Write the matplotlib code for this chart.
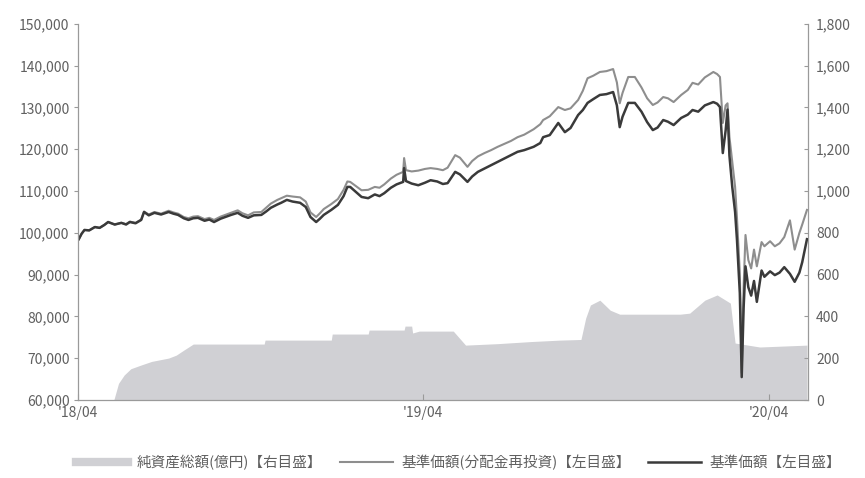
"""基準価額・純資産総額の推移"""

import pandas as pd
import matplotlib
matplotlib.use("Agg")
import matplotlib.pyplot as plt
from matplotlib.lines import Line2D
from matplotlib.ticker import FuncFormatter

plt.rcParams["font.family"] = ["Noto Sans CJK JP", "DejaVu Sans"]

# 基準価額の日付
dates = [
    "2018-04-02", "2018-04-05", "2018-04-08", "2018-04-13", "2018-04-19", "2018-04-24",
    "2018-04-29", "2018-05-03", "2018-05-10", "2018-05-17", "2018-05-22", "2018-05-26",
    "2018-06-01", "2018-06-07", "2018-06-10", "2018-06-15", "2018-06-21", "2018-06-28",
    "2018-07-06", "2018-07-11", "2018-07-16", "2018-07-22", "2018-07-27", "2018-08-01",
    "2018-08-06", "2018-08-13", "2018-08-18", "2018-08-23", "2018-08-30", "2018-09-05",
    "2018-09-10", "2018-09-17", "2018-09-22", "2018-09-28", "2018-10-04", "2018-10-12",
    "2018-10-17", "2018-10-22", "2018-10-29", "2018-11-02", "2018-11-08", "2018-11-14",
    "2018-11-22", "2018-11-28", "2018-12-03", "2018-12-09", "2018-12-13", "2018-12-17",
    "2018-12-25", "2019-01-01", "2019-01-07", "2019-01-11", "2019-01-14", "2019-01-20",
    "2019-01-26", "2019-02-02", "2019-02-09", "2019-02-14", "2019-02-19", "2019-02-26",
    "2019-03-04", "2019-03-11", "2019-03-12", "2019-03-14", "2019-03-20", "2019-03-27",
    "2019-04-03", "2019-04-09", "2019-04-16", "2019-04-22", "2019-04-27", "2019-05-05",
    "2019-05-10", "2019-05-18", "2019-05-23", "2019-05-29", "2019-06-05", "2019-06-12",
    "2019-06-19", "2019-06-26", "2019-07-03", "2019-07-10", "2019-07-17", "2019-07-27",
    "2019-08-03", "2019-08-06", "2019-08-13", "2019-08-22", "2019-08-29", "2019-09-04",
    "2019-09-12", "2019-09-17", "2019-09-22", "2019-09-28", "2019-10-05", "2019-10-12",
    "2019-10-19", "2019-10-23", "2019-10-26", "2019-10-29", "2019-11-04", "2019-11-11",
    "2019-11-18", "2019-11-24", "2019-11-30", "2019-12-05", "2019-12-11", "2019-12-16",
    "2019-12-22", "2019-12-30", "2020-01-06", "2020-01-11", "2020-01-17", "2020-01-24",
    "2020-02-02", "2020-02-06", "2020-02-09", "2020-02-12", "2020-02-15", "2020-02-17",
    "2020-02-19", "2020-02-22", "2020-02-25", "2020-02-27", "2020-03-01", "2020-03-03",
    "2020-03-05", "2020-03-07", "2020-03-10", "2020-03-13", "2020-03-16", "2020-03-19",
    "2020-03-22", "2020-03-24", "2020-03-27", "2020-04-02", "2020-04-07", "2020-04-12",
    "2020-04-17", "2020-04-23", "2020-04-28", "2020-05-03", "2020-05-06", "2020-05-11",
]

# 基準価額【左目盛】
kijun = [
    98500, 99800, 100700, 100600, 101400, 101200,
    101900, 102600, 102000, 102400, 102000, 102600,
    102300, 103100, 105000, 104200, 104800, 104400,
    105000, 104600, 104300, 103500, 103100, 103500,
    103600, 102900, 103200, 102600, 103400, 103900,
    104300, 104800, 104100, 103600, 104200, 104300,
    105100, 106000, 106800, 107200, 107900, 107500,
    107200, 106200, 103800, 102600, 103400, 104300,
    105500, 106700, 108800, 111000, 111000, 109800,
    108600, 108300, 109200, 108800, 109500, 110800,
    111600, 112200, 115500, 112400, 111800, 111400,
    112000, 112600, 112300, 111700, 111900, 114600,
    114000, 112200, 113500, 114600, 115400, 116200,
    117000, 117800, 118600, 119400, 119800, 120600,
    121500, 122900, 123400, 126300, 124100, 125100,
    128200, 129400, 131100, 132000, 133000, 133200,
    133700, 130500, 125300, 127800, 131100, 131100,
    129000, 126500, 124600, 125200, 127000, 126600,
    125800, 127500, 128300, 129400, 129000, 130500,
    131300, 130900, 130100, 119100, 124500, 129500,
    118500, 111000, 105000, 98300, 85600, 65500,
    82000, 92000, 87000, 85000, 88500, 83500,
    88000, 91000, 89500, 90800, 89900, 90500,
    91800, 90200, 88300, 90500, 93000, 98500,
]

# 基準価額(分配金再投資)【左目盛】
kijun_reinv = [
    98500, 99800, 100700, 100600, 101400, 101200,
    101900, 102600, 102000, 102400, 102100, 102700,
    102400, 103200, 105100, 104400, 105000, 104600,
    105300, 104900, 104600, 103800, 103500, 103900,
    104000, 103300, 103600, 103100, 103900, 104400,
    104800, 105400, 104700, 104200, 104900, 105000,
    106000, 107000, 107900, 108300, 108900, 108700,
    108500, 107500, 104900, 103800, 104700, 105700,
    106900, 108100, 110300, 112300, 112200, 111200,
    110200, 110300, 111000, 110800, 111600, 113000,
    113900, 114600, 117900, 115000, 114700, 114900,
    115300, 115500, 115300, 115000, 115600, 118600,
    118000, 115800, 117200, 118300, 119100, 119800,
    120600, 121300, 122000, 122900, 123500, 124800,
    126000, 127000, 127900, 130100, 129400, 129800,
    131800, 134000, 137000, 137600, 138500, 138700,
    139200, 136000, 131000, 133500, 137300, 137300,
    134800, 132200, 130600, 131200, 132500, 132200,
    131300, 133000, 134200, 135900, 135500, 137200,
    138500, 138000, 137300, 126300, 130500, 131000,
    123000, 117000, 111000, 103500, 90400, 66500,
    87000, 99500, 93500, 91500, 96000, 92000,
    95500, 97800, 96800, 98000, 96800, 97500,
    99000, 103000, 96000, 100000, 102000, 105500,
]

# 純資産総額(億円)【右目盛】
na_dates = [
    "2018-04-02", "2018-05-09", "2018-05-14", "2018-05-20", "2018-05-27", "2018-06-07",
    "2018-06-18", "2018-07-06", "2018-07-14", "2018-07-22", "2018-08-01", "2018-10-15",
    "2018-10-16", "2018-12-25", "2018-12-26", "2019-02-02", "2019-02-03", "2019-03-12",
    "2019-03-13", "2019-03-20", "2019-03-21", "2019-03-28", "2019-05-03", "2019-05-16",
    "2019-06-19", "2019-07-24", "2019-08-24", "2019-09-15", "2019-09-20", "2019-09-25",
    "2019-10-05", "2019-10-16", "2019-10-26", "2019-12-29", "2020-01-08", "2020-01-24",
    "2020-02-06", "2020-02-20", "2020-02-25", "2020-03-22", "2020-05-11",
]
na_values = [
    0, 0, 80, 120, 150, 168,
    185, 201, 215, 239, 268, 268,
    287, 287, 316, 316, 335, 335,
    354, 354, 321, 330, 330, 263,
    270, 280, 287, 290, 392, 455,
    478, 430, 411, 411, 416, 478,
    503, 464, 273, 254, 263,
]

# X軸ラベル
xtick_dates = ["2018-04-01", "2019-04-01", "2020-04-01"]
xtick_labels = ["'18/04", "'19/04", "'20/04"]

col_base = "#3a3a3a"
col_reinv = "#8e8e8e"
col_fill = "#d0d0d4"
col_text = "#606060"
col_axis = "#9a9a9a"

fig = plt.figure(figsize=(8.65, 4.78), dpi=100)
ax = fig.add_axes([0.090, 0.163, 0.844, 0.787])
ax2 = ax.twinx()
ax.set_zorder(ax2.get_zorder() + 1)
ax.patch.set_visible(False)

# 純資産総額
nd = pd.to_datetime(na_dates)
ax2.fill_between(nd, 0, na_values, color=col_fill, linewidth=0)

# 基準価額
d = pd.to_datetime(dates)
ax.plot(d, kijun_reinv, color=col_reinv, linewidth=1.5)
ax.plot(d, kijun, color=col_base, linewidth=1.8)

ax.set_xlim(pd.Timestamp("2018-04-01"), pd.Timestamp("2020-05-12"))
ax.set_ylim(60000, 150000)
ax2.set_ylim(0, 1800)
ax.set_yticks(range(60000, 150001, 10000))
ax2.set_yticks(range(0, 1801, 200))
ax.yaxis.set_major_formatter(FuncFormatter(lambda v, p: f"{int(v):,}"))
ax2.yaxis.set_major_formatter(FuncFormatter(lambda v, p: f"{int(v):,}"))
ax.set_xticks(pd.to_datetime(xtick_dates))
ax.set_xticklabels(xtick_labels)

for a in (ax, ax2):
    a.spines["top"].set_visible(False)
    for s in ("left", "right", "bottom"):
        a.spines[s].set_color(col_axis)
        a.spines[s].set_linewidth(0.9)
ax.spines["right"].set_visible(False)
ax2.spines["left"].set_visible(False)
ax2.spines["bottom"].set_visible(False)

ax.tick_params(axis="y", direction="out", length=3, color=col_axis,
               labelsize=10, labelcolor=col_text, pad=3)
ax.tick_params(axis="x", direction="in", length=4, color=col_axis,
               labelsize=10, labelcolor=col_text, pad=4)
ax2.tick_params(axis="y", direction="in", length=3, color=col_axis,
                labelsize=10, labelcolor=col_text, pad=6)

# 凡例
handles = [
    Line2D([], [], color=col_fill, linewidth=6),
    Line2D([], [], color=col_reinv, linewidth=1.5),
    Line2D([], [], color=col_base, linewidth=1.8),
]
labels = ["純資産総額(億円)【右目盛】", "基準価額(分配金再投資)【左目盛】", "基準価額【左目盛】"]
fig.legend(handles, labels, loc="center", bbox_to_anchor=(0.53, 0.033), ncol=3,
           frameon=False, fontsize=10.5, labelcolor=col_text, handlelength=3.6,
           columnspacing=1.2, handletextpad=0.6)

plt.savefig("out.png", dpi=100)
plt.close(fig)
